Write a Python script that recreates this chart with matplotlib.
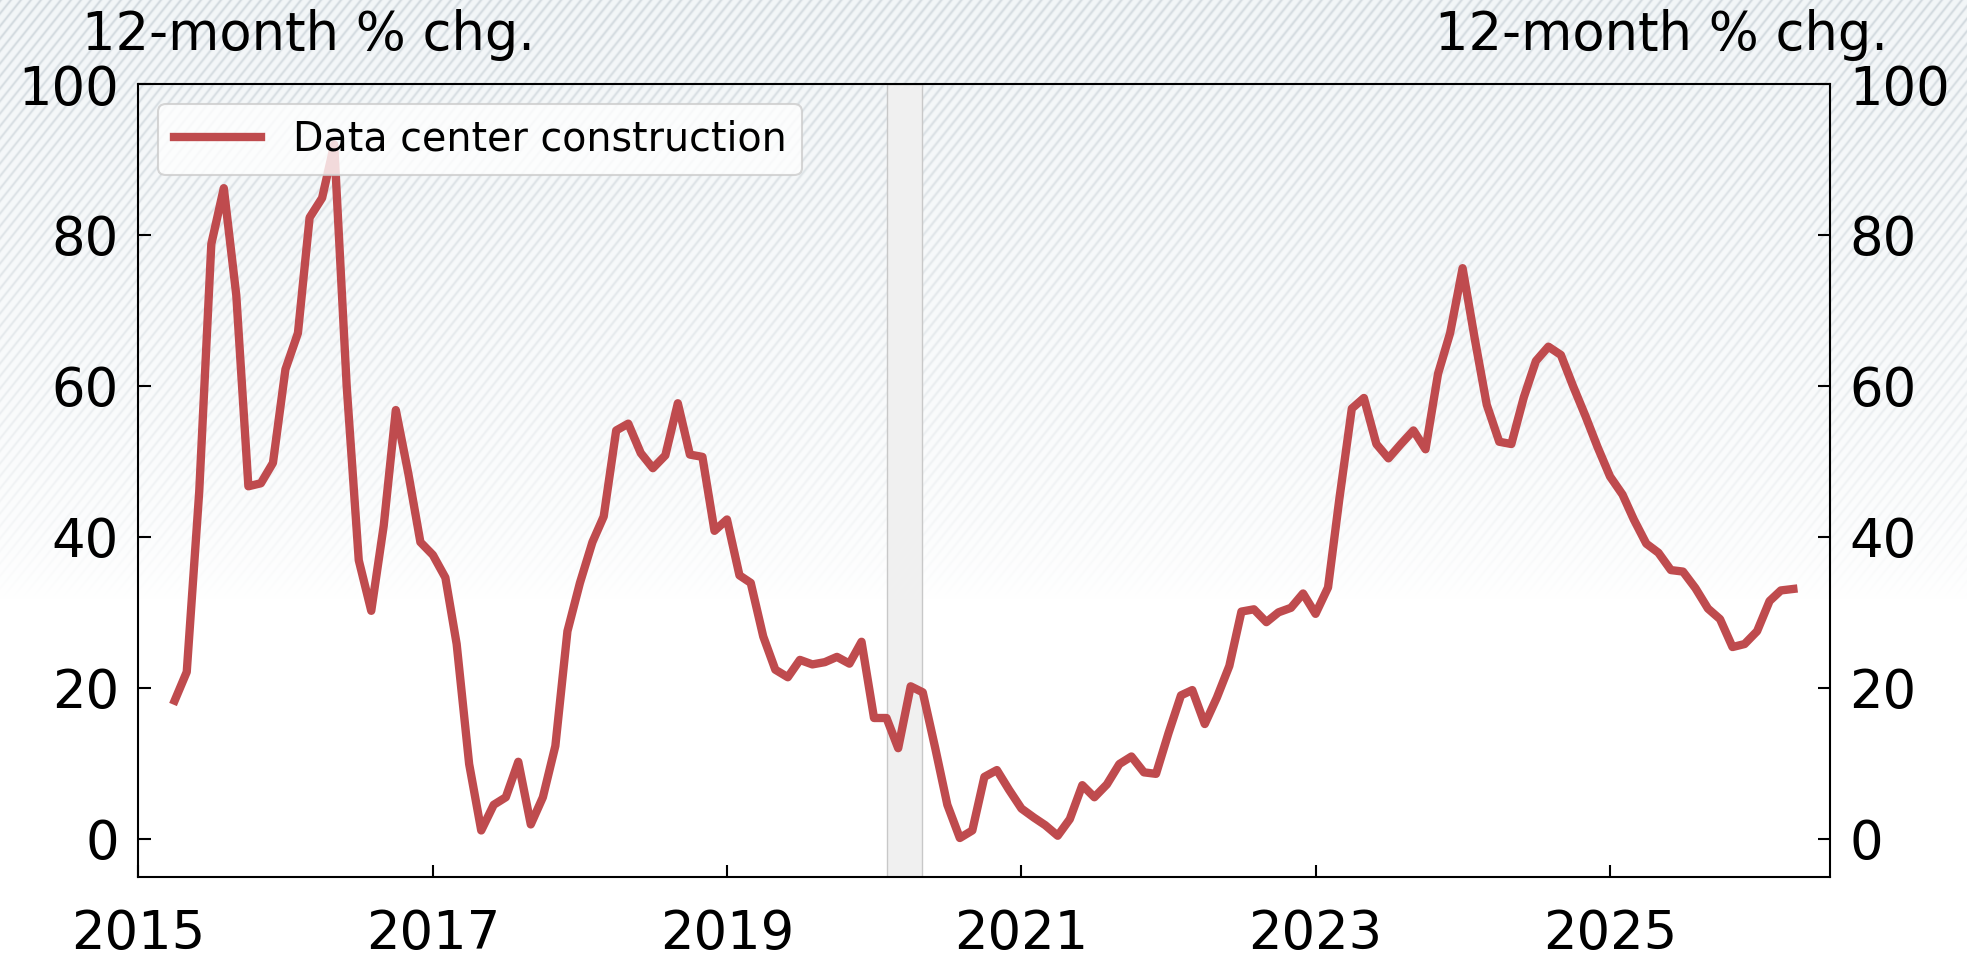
import numpy as np
import pandas as pd
import matplotlib
matplotlib.use("Agg")
import matplotlib.pyplot as plt
import matplotlib.dates as mdates

# Data center construction spending, 12-month % change (monthly, Apr 2015 - Apr 2026)
start_month = "2015-04-01"
pct_chg = [
    18.3, 22.1, 46.0, 78.8, 86.2, 72.0, 46.7, 47.1, 49.8,             # 2015 Apr-Dec
    62.2, 67.0, 82.3, 84.9, 92.0, 60.0, 36.9, 30.2, 41.5, 56.8, 48.4, 39.3,  # 2016
    37.6, 34.6, 25.8, 9.9, 1.1, 4.5, 5.5, 10.2, 1.9, 5.5, 12.3, 27.5,       # 2017
    33.9, 39.3, 42.7, 54.1, 55.0, 51.1, 49.1, 50.8, 57.7, 50.9, 50.6, 40.8,  # 2018
    42.3, 34.9, 33.9, 26.8, 22.4, 21.4, 23.7, 23.1, 23.4, 24.1, 23.2, 26.1,  # 2019
    16.0, 16.0, 12.0, 20.2, 19.4, 12.0, 4.5, 0.1, 1.1, 8.2, 9.1, 6.5,        # 2020
    4.0, 2.8, 1.8, 0.4, 2.6, 7.1, 5.5, 7.2, 9.9, 10.9, 8.8, 8.6,             # 2021
    14.0, 19.0, 19.7, 15.2, 18.7, 22.9, 30.1, 30.4, 28.7, 30.0, 30.6, 32.5,  # 2022
    29.8, 33.3, 45.0, 57.0, 58.4, 52.3, 50.4, 52.3, 54.1, 51.6, 61.6, 67.0,  # 2023
    75.6, 66.0, 57.5, 52.6, 52.3, 58.5, 63.3, 65.2, 64.1, 60.0, 56.0, 51.9,  # 2024
    48.0, 45.6, 42.3, 39.1, 37.9, 35.6, 35.4, 33.2, 30.5, 29.1, 25.4, 25.8,  # 2025
    27.5, 31.5, 32.9, 33.1,                                                  # 2026
]
dates = pd.date_range(start_month, periods=len(pct_chg), freq="MS")

recession = ("2020-02-01", "2020-04-30")
tick_years = [2015, 2017, 2019, 2021, 2023, 2025]
y_ticks = [0, 20, 40, 60, 80, 100]
series_label = "Data center construction"
unit_label = "12-month % chg."
line_color = "#bf4b4e"

W, H = 1967, 966
fig = plt.figure(figsize=(W / 100, H / 100), dpi=100)

# hatched background that fades out towards the bottom
bg = fig.add_axes([0, 0, 1, 1], zorder=-10)
yy, xx = np.mgrid[0:H, 0:W]
stripe = (0.5 + 0.5 * np.cos(2 * np.pi * (xx + 0.8 * yy) / 10.0)) ** 4
fade = np.clip(1 - yy / (0.62 * H), 0, 1) ** 0.7
tint = np.array([0.952, 0.965, 0.972])
hatch = np.array([0.82, 0.85, 0.87])
col = tint * (1 - stripe[..., None]) + hatch * stripe[..., None]
rgb = 1 - fade[..., None] * (1 - col)
bg.imshow(rgb, aspect="auto", interpolation="bilinear")
bg.axis("off")

ax = fig.add_axes([138.4 / W, 1 - 876.5 / H, (1830 - 138.4) / W, (876.5 - 84) / H])
ax.set_facecolor("none")

ax.axvspan(pd.Timestamp(recession[0]), pd.Timestamp(recession[1]),
           facecolor="#f0f0f0", edgecolor="#c8c8c8", linewidth=1.0, zorder=1)
ax.plot(dates, pct_chg, color=line_color, lw=6, label=series_label, zorder=3)

ax.set_xlim(pd.Timestamp("2015-01-01"), pd.Timestamp("2026-07-01"))
ax.set_ylim(-5, 100)
ax.set_yticks(y_ticks)
ax.set_xticks([pd.Timestamp(f"{y}-01-01") for y in tick_years])
ax.xaxis.set_major_formatter(mdates.DateFormatter("%Y"))

ax.tick_params(axis="both", direction="in", length=9, width=1.5, labelsize=38)
ax.tick_params(axis="y", pad=14, right=True, labelright=True)
ax.tick_params(axis="x", pad=23)
for sp in ax.spines.values():
    sp.set_linewidth(1.5)
    sp.set_color("black")

leg = ax.legend(loc="upper left", fontsize=28.5, fancybox=True, framealpha=0.8,
                edgecolor="#cccccc", handlelength=2.2)
leg.get_frame().set_linewidth(1.5)

fig.text(82 / W, 1 - 50 / H, unit_label, fontsize=38, ha="left", va="baseline")
fig.text(1888 / W, 1 - 50 / H, unit_label, fontsize=38, ha="right", va="baseline")

fig.savefig("out.png", dpi=100)
